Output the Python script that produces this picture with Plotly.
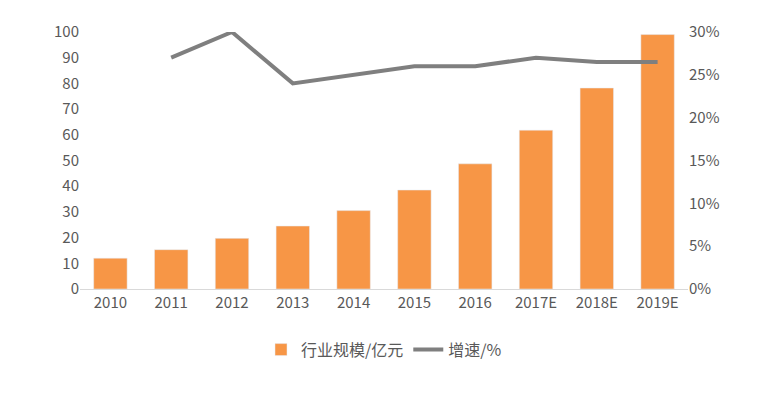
import plotly.graph_objects as go

years = ["2010", "2011", "2012", "2013", "2014", "2015", "2016", "2017E", "2018E", "2019E"]
scale = [12, 15.3, 19.7, 24.5, 30.5, 38.5, 48.7, 61.8, 78.2, 99]
growth_years = years[1:]
growth = [0.27, 0.30, 0.24, 0.25, 0.26, 0.26, 0.27, 0.265, 0.265]

fig = go.Figure()
fig.add_trace(go.Bar(x=years, y=scale, name="行业规模/亿元",
                     marker_color="#F79646", width=0.55))
fig.add_trace(go.Scatter(x=growth_years, y=growth, name="增速/%", yaxis="y2",
                         mode="lines", line=dict(color="#7F7F7F", width=4)))

fig.update_layout(
    width=774, height=408,
    margin=dict(l=72, r=94, t=21, b=127),
    paper_bgcolor="white", plot_bgcolor="white",
    font=dict(family="Noto Sans CJK SC", size=15, color="#595959"),
    xaxis=dict(showline=True, linecolor="#D9D9D9", ticks=""),
    yaxis=dict(range=[0, 100], dtick=10, showgrid=False, zeroline=False),
    yaxis2=dict(range=[0, 0.30], dtick=0.05, tickformat=".0%", overlaying="y",
                side="right", showgrid=False, zeroline=False),
    legend=dict(orientation="h", x=0.5, xanchor="center", y=-0.17, yanchor="top",
                font=dict(size=16)),
    bargap=0.45,
)

fig.write_html("out.html")
